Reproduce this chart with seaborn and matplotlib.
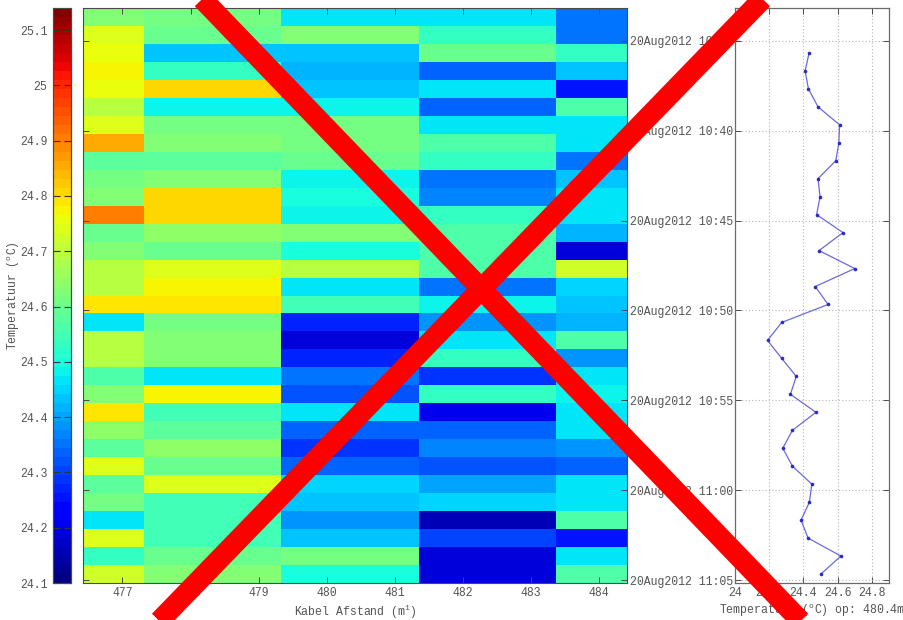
import numpy as np
import pandas as pd
import matplotlib
matplotlib.use("Agg")
import matplotlib.pyplot as plt
import seaborn as sns
from matplotlib.lines import Line2D
from matplotlib.ticker import FuncFormatter

plt.rcParams['font.family'] = ['Liberation Mono', 'DejaVu Sans Mono']
plt.rcParams['mathtext.fontset'] = 'custom'
plt.rcParams['mathtext.rm'] = 'Liberation Mono'
plt.rcParams['mathtext.it'] = 'Liberation Mono'
plt.rcParams['mathtext.default'] = 'regular'

# ---------------- data ----------------
sample_times = ["10:33:40", "10:34:40", "10:35:40", "10:36:40", "10:37:40", "10:38:40",
                "10:39:40", "10:40:40", "10:41:40", "10:42:40", "10:43:40", "10:44:40",
                "10:45:40", "10:46:40", "10:47:40", "10:48:40", "10:49:40", "10:50:40",
                "10:51:40", "10:52:40", "10:53:40", "10:54:40", "10:55:40", "10:56:40",
                "10:57:40", "10:58:40", "10:59:40", "11:00:40", "11:01:40", "11:02:40",
                "11:03:40", "11:04:40"]

distance_m = [476.30, 478.32, 480.34, 482.36, 484.38]
distance_ticks = [477, 478, 479, 480, 481, 482, 483, 484]
distance_xlim = (476.42, 484.41)

temp_476_3 = [24.62, 24.75, 24.765, 24.775, 24.765, 24.69, 24.75, 24.86, 24.575, 24.605,
              24.62, 24.91, 24.59, 24.635, 24.69, 24.69, 24.79, 24.47, 24.70, 24.70,
              24.56, 24.635, 24.79, 24.65, 24.575, 24.735, 24.575, 24.605, 24.47, 24.735,
              24.53, 24.72]
temp_478_3 = [24.605, 24.59, 24.43, 24.53, 24.81, 24.48, 24.605, 24.635, 24.575, 24.62,
              24.81, 24.81, 24.65, 24.59, 24.735, 24.775, 24.79, 24.605, 24.635, 24.62,
              24.465, 24.78, 24.545, 24.575, 24.65, 24.59, 24.735, 24.545, 24.545, 24.545,
              24.59, 24.635]
temp_480_4 = [24.47, 24.62, 24.433, 24.410, 24.429, 24.485, 24.611, 24.607, 24.589, 24.485,
              24.497, 24.477, 24.631, 24.491, 24.700, 24.469, 24.544, 24.273, 24.190, 24.273,
              24.358, 24.324, 24.473, 24.336, 24.279, 24.336, 24.449, 24.435, 24.386, 24.427,
              24.619, 24.502]
temp_482_4 = [24.465, 24.53, 24.59, 24.33, 24.46, 24.33, 24.46, 24.56, 24.53, 24.36,
              24.37, 24.53, 24.56, 24.56, 24.56, 24.36, 24.48, 24.38, 24.46, 24.53,
              24.28, 24.53, 24.21, 24.33, 24.37, 24.32, 24.40, 24.45, 24.16, 24.30,
              24.19, 24.19]
temp_484_4 = [24.36, 24.35, 24.53, 24.43, 24.26, 24.56, 24.47, 24.465, 24.35, 24.43,
              24.46, 24.465, 24.41, 24.19, 24.72, 24.45, 24.43, 24.42, 24.56, 24.38,
              24.465, 24.48, 24.465, 24.465, 24.38, 24.33, 24.46, 24.465, 24.56, 24.25,
              24.465, 24.56]

line_first_row = 2          # the profile plot starts at the third sample
color_limits = (24.1, 25.14)
cbar_ticks = [24.1, 24.2, 24.3, 24.4, 24.5, 24.6, 24.7, 24.8, 24.9, 25.0, 25.1]
time_tick_labels = ["20Aug2012 10:35", "20Aug2012 10:40", "20Aug2012 10:45",
                    "20Aug2012 10:50", "20Aug2012 10:55", "20Aug2012 11:00",
                    "20Aug2012 11:05"]
profile_xticks = [24.0, 24.2, 24.4, 24.6, 24.8]
profile_xlim = (24.0, 24.9)


def to_minutes(s):
    parts = [int(p) for p in s.split(":")]
    sec = parts[2] if len(parts) > 2 else 0
    return parts[0] * 60 + parts[1] + sec / 60.0 - 600.0


t_min = np.array([to_minutes(s) for s in sample_times])
tick_min = np.array([to_minutes(s.split(" ")[1]) for s in time_tick_labels])

df = pd.DataFrame({d: v for d, v in zip(distance_m,
                   [temp_476_3, temp_478_3, temp_480_4, temp_482_4, temp_484_4])},
                  index=sample_times)

# ---------------- figure ----------------
W, H = 904, 620
fig = plt.figure(figsize=(W / 100, H / 100), dpi=100)
fig.patch.set_facecolor("white")


def px_axes(x0, y0, x1, y1):
    return fig.add_axes([x0 / W, 1 - y1 / H, (x1 - x0) / W, (y1 - y0) / H])


cax = px_axes(53, 8, 71, 583)
ax = px_axes(83, 8, 627, 583)
ax2 = px_axes(735, 8, 889, 583)

txt_col = "#555555"
spine_col = "#4a4a4a"
fs = 8.3

cmap = plt.get_cmap("jet", 64)
sns.heatmap(df, ax=ax, cbar_ax=cax, cmap=cmap, vmin=color_limits[0], vmax=color_limits[1],
            xticklabels=False, yticklabels=False, linewidths=0)

# index mapping for the heatmap cells
d = np.array(distance_m)
half = np.diff(d).mean() / 2
x_edges = np.concatenate([[d[0] - half], (d[:-1] + d[1:]) / 2, [d[-1] + half]])


def x_idx(m):
    return np.interp(m, x_edges, np.arange(len(x_edges)))


t_step = np.diff(t_min).mean()
t0_edge = t_min[0] - t_step / 2


def y_idx(t):
    return (np.asarray(t) - t0_edge) / t_step


ax.set_xlim(x_idx(distance_xlim[0]), x_idx(distance_xlim[1]))
ax.set_ylim(len(t_min), 0)
ax.set_xticks(x_idx(np.array(distance_ticks)))
ax.set_xticklabels([str(v) for v in distance_ticks])
ax.set_yticks(y_idx(tick_min))
ax.set_yticklabels([])
ax.tick_params(axis="both", direction="in", length=4, width=0.7, color=spine_col,
               top=True, right=True, bottom=True, left=True,
               labelsize=fs, labelcolor=txt_col, pad=3)
for s in ax.spines.values():
    s.set_visible(True)
    s.set_color(spine_col)
    s.set_linewidth(0.8)
ax.set_xlabel("Kabel Afstand (m$^1$)", fontsize=fs, color=txt_col, labelpad=2.5)
ax.set_ylabel("")

# colorbar
cax.set_yticks(cbar_ticks)
cax.yaxis.set_major_formatter(FuncFormatter(lambda v, p: "%g" % v))
cax.yaxis.set_ticks_position("both")
cax.tick_params(axis="y", direction="in", length=5, width=0.8, color="#333333",
                left=True, right=True, labelleft=True, labelright=False,
                labelsize=fs, labelcolor=txt_col, pad=4)
cax.yaxis.set_label_position("left")
cax.set_ylabel("Temperatuur ($^o$C)", fontsize=fs, color=txt_col)
cax.yaxis.set_label_coords(-1.72, 0.5)
for s in cax.spines.values():
    s.set_visible(True)
    s.set_color(spine_col)
    s.set_linewidth(0.8)
try:
    cax.collections[0].colorbar.outline.set_linewidth(0.8)
    cax.collections[0].colorbar.outline.set_edgecolor(spine_col)
except Exception:
    pass

# profile plot
sns.lineplot(x=temp_480_4[line_first_row:], y=t_min[line_first_row:], ax=ax2,
             sort=False, estimator=None, color="#6a6adc", linewidth=0.9,
             marker="o", markersize=2.6, markerfacecolor="#2a2ac8",
             markeredgecolor="#2a2ac8", markeredgewidth=0)
ax2.set_xlim(*profile_xlim)
ax2.set_ylim(t_min[-1] + t_step / 2, t_min[0] - t_step / 2)
ax2.set_xticks(profile_xticks)
ax2.xaxis.set_major_formatter(FuncFormatter(lambda v, p: "%g" % v))
ax2.set_yticks(tick_min)
ax2.set_yticklabels(time_tick_labels)
ax2.grid(True, linestyle=(0, (1, 2)), color="#b5b5b5", linewidth=0.8)
ax2.tick_params(axis="both", direction="in", length=4, width=0.7, color=spine_col,
                top=True, right=True, labelsize=fs, labelcolor=txt_col, pad=3)
ax2.tick_params(axis="y", pad=1.5)
for s in ax2.spines.values():
    s.set_color("#6a6a6a")
    s.set_linewidth(0.9)
ax2.set_xlabel("Temperatuur ($^o$C) op: 480.4m", fontsize=fs, color=txt_col, labelpad=2.5)
ax2.set_ylabel("")

# big red cross over the picture
def px_line(xa, ya, xb, yb):
    fig.add_artist(Line2D([xa / W, xb / W], [1 - ya / H, 1 - yb / H],
                          transform=fig.transFigure, color="#ff0000",
                          linewidth=15, solid_capstyle="butt", zorder=10))


px_line(184, -20, 819, 640)
px_line(781, -20, 141, 640)

fig.savefig("out.png", dpi=100, facecolor="white")
